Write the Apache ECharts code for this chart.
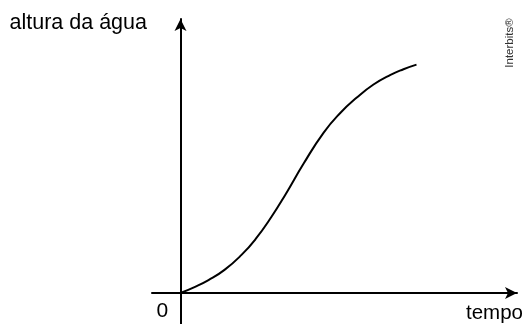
<!DOCTYPE html>
<html>
	<head>
		<meta charset="UTF-8">
		<title>altura da água</title>
		<style type="text/css">
			body{
				margin: 0;
				background: #fff;
			}
			#main{
				width: 526px;
				height: 324px;
			}
		</style>
	</head>
	<body>
		<div id="main"></div>
		<script src="https://cdn.jsdelivr.net/npm/echarts@6/dist/echarts.min.js"></script>
		<script type="text/javascript">
			// dados (tempo x altura)
			var tempo = [0, 14, 28, 44, 61, 75, 91, 105, 123, 143, 160, 176, 193, 210, 223, 236];
			var altura = [0, 5.9, 12.9, 23.1, 38.1, 53.8, 76.2, 98.6, 129.2, 160.2, 180.3, 195.2, 208.5, 218.2, 223.8, 228.4];
			var xLabel = 'tempo';
			var yLabel = 'altura da água';
			var zeroLabel = '0';
			var marca = 'Interbits®';

			var pontos = [];
			for(var i = 0; i < tempo.length; i++){
				pontos.push([tempo[i], altura[i]]);
			}

			var fonte = '"Liberation Sans", Arial, sans-serif';
			var myChart = echarts.init(document.getElementById('main'));
			var eixo = {
				show: true,
				onZero: true,
				symbol: ['none', 'arrow'],
				symbolSize: [9, 12],
				lineStyle: {color: '#000', width: 2}
			};
			var option = {
				animation: false,
				grid: {left: 152, right: 9, top: 19, bottom: 0},
				xAxis: {
					type: 'value',
					min: -28.5,
					max: 336.5,
					axisLine: eixo,
					axisTick: {show: false},
					axisLabel: {show: false},
					splitLine: {show: false}
				},
				yAxis: {
					type: 'value',
					min: -31,
					max: 274,
					axisLine: eixo,
					axisTick: {show: false},
					axisLabel: {show: false},
					splitLine: {show: false}
				},
				series: [
					{
						type: 'line',
						data: pontos,
						smooth: 0.5,
						showSymbol: false,
						lineStyle: {color: '#000', width: 2}
					}
				],
				graphic: [
					{type: 'text', x: 9.5, y: 23, style: {text: yLabel, font: '21.5px ' + fonte, fill: '#000', verticalAlign: 'middle'}},
					{type: 'text', x: 466, y: 313, style: {text: xLabel, font: '20.5px ' + fonte, fill: '#000', verticalAlign: 'middle'}},
					{type: 'text', x: 156.5, y: 311, style: {text: zeroLabel, font: '21px ' + fonte, fill: '#000', verticalAlign: 'middle'}},
					{type: 'text', x: 510, y: 43, rotation: Math.PI / 2, style: {text: marca, font: '11.5px ' + fonte, fill: '#333', align: 'center', verticalAlign: 'middle'}}
				]
			};
			myChart.setOption(option);
		</script>
	</body>
</html>
